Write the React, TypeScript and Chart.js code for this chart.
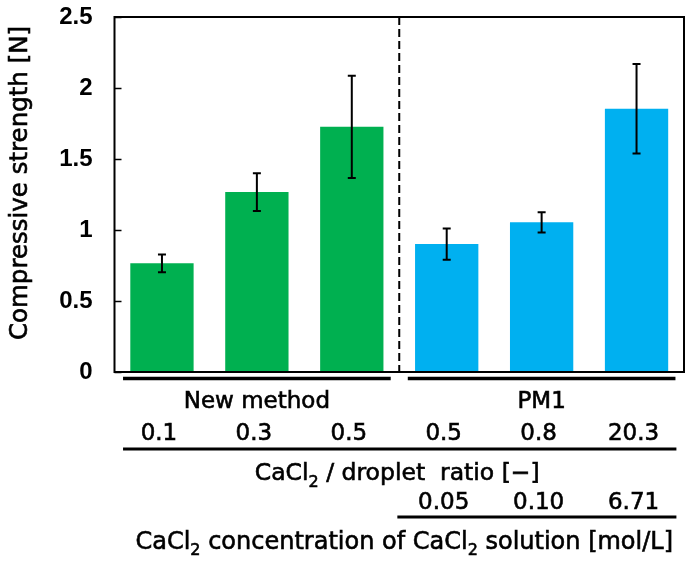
import React, { useEffect, useRef } from "react";
import { Chart, registerables } from "chart.js";

Chart.register(...registerables);

// ---- data ----
const categories = ["New method 0.1", "New method 0.3", "New method 0.5", "PM1 0.5", "PM1 0.8", "PM1 20.3"];
const strengths = [0.765, 1.267, 1.727, 0.901, 1.054, 1.854];
const strengthErrors = [0.062, 0.133, 0.36, 0.11, 0.071, 0.315];
const barColors = ["#00B050", "#00B050", "#00B050", "#00B0F0", "#00B0F0", "#00B0F0"];
const ratioLabels = ["0.1", "0.3", "0.5", "0.5", "0.8", "20.3"];
const concentrationLabels = ["", "", "", "0.05", "0.10", "6.71"];
const groupNames = ["New method", "PM1"];
const groupFirst = [0, 3];
const groupLast = [2, 5];
const yMin = 0;
const yMax = 2.5;
const yStep = 0.5;
const yTitle = "Compressive strength [N]";

const LABEL_FONT = "'DejaVu Sans', sans-serif";
const TICK_FONT = "'Liberation Sans', Arial, sans-serif";

type Seg = { t: string; sub?: boolean };

function fillHeavy(ctx: CanvasRenderingContext2D, t: string, x: number, y: number) {
  ctx.fillText(t, x, y);
  ctx.lineWidth = 0.6;
  ctx.strokeText(t, x, y);
}

function drawRich(ctx: CanvasRenderingContext2D, segs: Seg[], cx: number, cy: number, size: number) {
  const subSize = Math.round(size * 0.68);
  let total = 0;
  for (const s of segs) {
    ctx.font = `${s.sub ? subSize : size}px ${LABEL_FONT}`;
    total += ctx.measureText(s.t).width;
  }
  let x = cx - total / 2;
  ctx.textAlign = "left";
  ctx.textBaseline = "alphabetic";
  const base = cy + size * 0.36;
  for (const s of segs) {
    ctx.font = `${s.sub ? subSize : size}px ${LABEL_FONT}`;
    fillHeavy(ctx, s.t, x, s.sub ? base + size * 0.28 : base);
    x += ctx.measureText(s.t).width;
  }
}

const annotationPlugin = {
  id: "annotations",
  afterDraw(chart: any) {
    const ctx: CanvasRenderingContext2D = chart.ctx;
    const { left, right, top, bottom } = chart.chartArea;
    const xs = chart.scales.x;
    const ys = chart.scales.y;
    const step = xs.getPixelForValue(1) - xs.getPixelForValue(0);
    ctx.save();
    ctx.fillStyle = "#000";
    ctx.strokeStyle = "#000";

    // dashed separator between groups
    const sepX = (xs.getPixelForValue(groupLast[0]) + xs.getPixelForValue(groupFirst[1])) / 2;
    ctx.lineWidth = 2;
    ctx.setLineDash([8, 4]);
    ctx.beginPath();
    ctx.moveTo(sepX, top);
    ctx.lineTo(sepX, bottom);
    ctx.stroke();
    ctx.setLineDash([]);

    // error bars
    ctx.lineWidth = 2;
    strengths.forEach((v, i) => {
      const cx = xs.getPixelForValue(i);
      const yHi = ys.getPixelForValue(v + strengthErrors[i]);
      const yLo = ys.getPixelForValue(v - strengthErrors[i]);
      ctx.beginPath();
      ctx.moveTo(cx, yHi);
      ctx.lineTo(cx, yLo);
      ctx.moveTo(cx - 4, yHi);
      ctx.lineTo(cx + 4, yHi);
      ctx.moveTo(cx - 4, yLo);
      ctx.lineTo(cx + 4, yLo);
      ctx.stroke();
    });

    // inward y ticks
    ctx.lineWidth = 1.5;
    for (let v = yMin; v <= yMax + 1e-9; v += yStep) {
      const y = Math.round(ys.getPixelForValue(v)) + 0.5;
      ctx.beginPath();
      ctx.moveTo(left, y);
      ctx.lineTo(left + 7, y);
      ctx.stroke();
    }

    // plot frame
    ctx.lineWidth = 2;
    ctx.strokeRect(left, top, right - left, bottom - top);

    // group underlines
    ctx.lineWidth = 3.5;
    const gy = bottom + 6.5;
    for (let g = 0; g < groupNames.length; g++) {
      const x0 = xs.getPixelForValue(groupFirst[g]) - 0.41 * step;
      const x1 = xs.getPixelForValue(groupLast[g]) + 0.41 * step;
      ctx.beginPath();
      ctx.moveTo(x0, gy);
      ctx.lineTo(x1, gy);
      ctx.stroke();
    }

    // group names
    ctx.textAlign = "center";
    ctx.textBaseline = "middle";
    ctx.font = `23px ${LABEL_FONT}`;
    for (let g = 0; g < groupNames.length; g++) {
      const cx = (xs.getPixelForValue(groupFirst[g]) + xs.getPixelForValue(groupLast[g])) / 2;
      fillHeavy(ctx, groupNames[g], cx, bottom + 30);
    }

    // ratio values
    ratioLabels.forEach((t, i) => {
      fillHeavy(ctx, t, xs.getPixelForValue(i) - 3, bottom + 62);
    });

    // ratio underline
    ctx.lineWidth = 3;
    const firstX = xs.getPixelForValue(0) - 0.41 * step;
    const lastX = xs.getPixelForValue(categories.length - 1) + 0.42 * step;
    ctx.beginPath();
    ctx.moveTo(firstX, bottom + 77);
    ctx.lineTo(lastX, bottom + 77);
    ctx.stroke();

    // ratio title
    drawRich(
      ctx,
      [{ t: "CaCl" }, { t: "2", sub: true }, { t: " / droplet  ratio [\u2212]" }],
      (left + right) / 2 - 2,
      bottom + 100,
      23.5
    );

    // concentration values
    ctx.textAlign = "center";
    ctx.textBaseline = "middle";
    ctx.font = `23px ${LABEL_FONT}`;
    concentrationLabels.forEach((t, i) => {
      if (t) fillHeavy(ctx, t, xs.getPixelForValue(i) - 3, bottom + 131.5);
    });

    // concentration underline
    ctx.lineWidth = 3;
    const cStart = xs.getPixelForValue(groupFirst[1]) - 0.52 * step;
    ctx.beginPath();
    ctx.moveTo(cStart, bottom + 145);
    ctx.lineTo(lastX, bottom + 145);
    ctx.stroke();

    // concentration title
    drawRich(
      ctx,
      [
        { t: "CaCl" },
        { t: "2", sub: true },
        { t: " concentration of CaCl" },
        { t: "2", sub: true },
        { t: " solution [mol/L]" },
      ],
      (left + right) / 2 + 5,
      bottom + 168,
      24
    );

    // y title
    ctx.save();
    ctx.translate(21, 183);
    ctx.rotate(-Math.PI / 2);
    ctx.textAlign = "center";
    ctx.textBaseline = "middle";
    ctx.font = `24.5px ${LABEL_FONT}`;
    fillHeavy(ctx, yTitle, 0, 0);
    ctx.restore();

    ctx.restore();
  },
};

export default function App() {
  const canvasRef = useRef<HTMLCanvasElement | null>(null);

  useEffect(() => {
    if (!canvasRef.current) return;
    const chart = new Chart(canvasRef.current, {
      type: "bar",
      data: {
        labels: categories,
        datasets: [
          {
            data: strengths,
            backgroundColor: barColors,
            borderWidth: 0,
            barPercentage: 0.667,
            categoryPercentage: 1,
          },
        ],
      },
      options: {
        animation: false,
        responsive: false,
        devicePixelRatio: 1,
        layout: { padding: { left: 0, right: 7, top: 17, bottom: 189 } },
        plugins: { legend: { display: false }, tooltip: { enabled: false } },
        scales: {
          x: { display: false },
          y: {
            min: yMin,
            max: yMax,
            border: { display: false },
            grid: { display: false, drawTicks: false },
            ticks: {
              stepSize: yStep,
              padding: 22,
              color: "#000",
              font: { family: TICK_FONT, size: 24, weight: "bold" },
              callback: (v: any) => `${Number(v)}`,
            },
            afterFit(scale: any) {
              scale.width = 114.5;
              scale.paddingTop = 0;
              scale.paddingBottom = 0;
            },
          },
        },
      },
      plugins: [annotationPlugin],
    });
    return () => chart.destroy();
  }, []);

  return (
    <div style={{ position: "fixed", left: 0, top: 0, width: 691, height: 561, background: "#fff" }}>
      <canvas ref={canvasRef} width={691} height={561} style={{ display: "block" }} />
    </div>
  );
}
